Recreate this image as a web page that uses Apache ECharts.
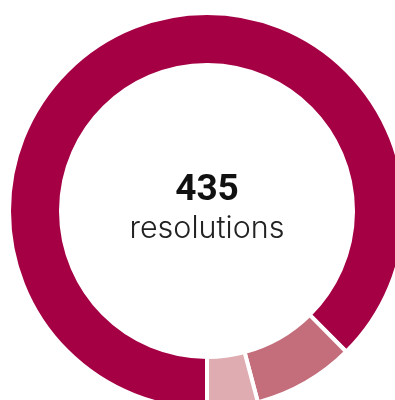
<!DOCTYPE html>
<html>
<head>
<meta charset="utf-8">
<script src="https://cdn.jsdelivr.net/npm/echarts@6/dist/echarts.min.js"></script>
<style>
  html, body { margin: 0; padding: 0; background: #fff; }
  #chart { width: 395px; height: 400px; }
</style>
</head>
<body>
<div id="chart"></div>
<script>
// slice data, clockwise from 6 o'clock
var categories = ['Major', 'Medium', 'Minor'];
var values = [381, 36, 18];
var colors = ['#a60045', '#c46d7b', '#dfadb1'];
var centerLabel = 'resolutions';

var total = values.reduce(function (a, b) { return a + b; }, 0);

var chart = echarts.init(document.getElementById('chart'));
chart.setOption({
  animation: false,
  series: [{
    type: 'pie',
    center: [207, 211],
    radius: [146, 198],
    startAngle: 270,
    clockwise: true,
    label: { show: false },
    labelLine: { show: false },
    emphasis: { disabled: true },
    itemStyle: { borderColor: '#fff', borderWidth: 4 },
    data: categories.map(function (c, i) {
      return { name: c, value: values[i], itemStyle: { color: colors[i] } };
    })
  }],
  graphic: [
    {
      type: 'text',
      x: 207, y: 191,
      style: {
        text: String(total),
        fontFamily: 'Roboto',
        fontWeight: 'bold',
        fontSize: 37,
        fill: '#111',
        align: 'center',
        verticalAlign: 'middle'
      }
    },
    {
      type: 'text',
      x: 207, y: 229,
      style: {
        text: centerLabel,
        fontFamily: 'Inter',
        fontWeight: 300,
        fontSize: 30.5,
        fill: '#222',
        align: 'center',
        verticalAlign: 'middle'
      }
    }
  ]
});
</script>
</body>
</html>
